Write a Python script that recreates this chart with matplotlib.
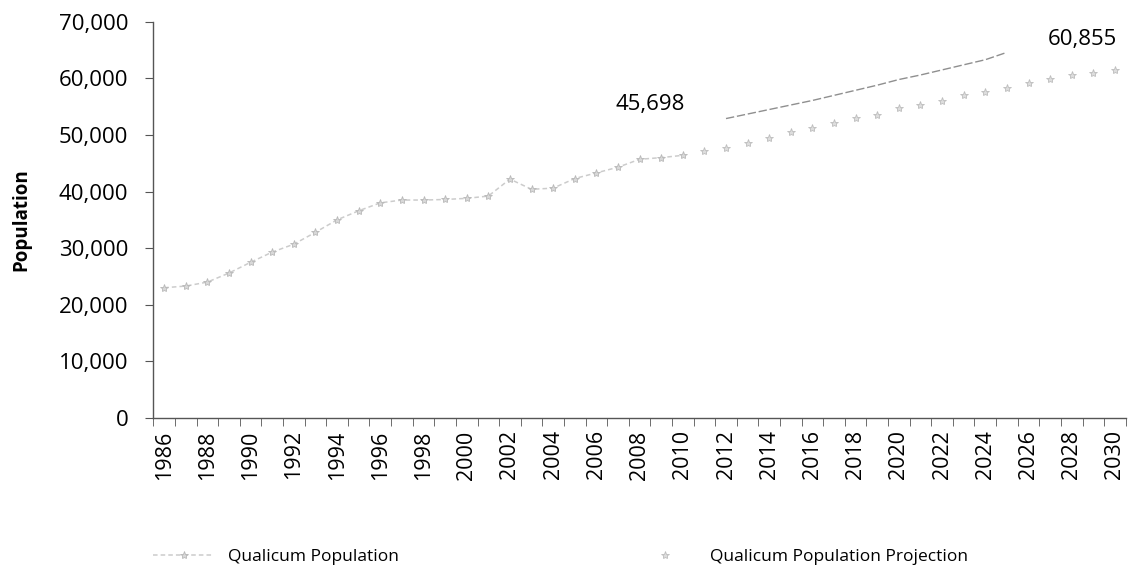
import numpy as np
import matplotlib
matplotlib.use("Agg")
import matplotlib.pyplot as plt
from matplotlib.ticker import FuncFormatter, MultipleLocator

plt.rcParams['font.family'] = ['Open Sans', 'DejaVu Sans']

# actual population
pop_years = list(range(1986, 2011))
pop_values = [23000, 23300, 24000, 25600, 27500, 29300, 30700, 32800, 35000,
              36600, 38000, 38500, 38500, 38600, 38800, 39200, 42200, 40400,
              40600, 42300, 43300, 44300, 45698, 46000, 46400]

# projection
proj_years = list(range(2011, 2031))
proj_values = [47200, 47700, 48600, 49500, 50600, 51300, 52200, 53000, 53600,
               54800, 55300, 56000, 57100, 57600, 58300, 59200, 59900, 60600,
               61000, 61500]

# faint unlabelled line
high_years = list(range(2012, 2026))
high_values = [52900, 53700, 54500, 55300, 56100, 57000, 57900, 58800, 59800,
               60600, 61500, 62400, 63300, 64600]

year_labels = list(range(1986, 2031, 2))

fig = plt.figure(figsize=(11.28, 5.74), dpi=100)
ax = fig.add_axes([0.136, 0.272, 0.862, 0.690])

ax.plot(pop_years, pop_values, color='#cccccc', lw=1.1, ls=(0, (3, 2)),
        marker='*', ms=6, mfc='#d8d8d8', mec='#b8b8b8', mew=0.6,
        label='Qualicum Population')
ax.plot(proj_years, proj_values, ls='none', marker='*', ms=6,
        mfc='#dddddd', mec='#bdbdbd', mew=0.6,
        label='Qualicum Population Projection')
ax.plot(high_years, high_values, color='#8f8f8f', lw=1.0, ls=(0, (6, 2)))

ax.text(2008.5, 55400, '45,698', fontsize=16, ha='center', va='center')
ax.text(2028.5, 66800, '60,855', fontsize=16, ha='center', va='center')

ax.set_xlim(1985.5, 2030.5)
ax.set_ylim(0, 70000)
ax.set_xticks(year_labels)
ax.set_xticklabels([str(y) for y in year_labels], rotation=90, fontsize=15.5)
ax.tick_params(axis='x', which='major', length=0, pad=9)
ax.set_xticks(np.arange(1985.5, 2031, 1), minor=True)
ax.tick_params(axis='x', which='minor', length=6, color='#555555')
ax.yaxis.set_major_locator(MultipleLocator(10000))
ax.yaxis.set_major_formatter(FuncFormatter(lambda v, p: f'{int(v):,}'))
ax.tick_params(axis='y', labelsize=16, length=6, color='#555555', pad=12)

for s in ['top', 'right']:
    ax.spines[s].set_visible(False)
for s in ['left', 'bottom']:
    ax.spines[s].set_color('#555555')
    ax.spines[s].set_linewidth(1.0)

ax.set_ylabel('Population', fontsize=13.5, fontweight='bold', labelpad=20)

fig.legend(loc='lower left', bbox_to_anchor=(0.122, -0.012), ncol=2,
           frameon=False, fontsize=12.5, columnspacing=13.6, handlelength=3.5)

fig.savefig('out.png', dpi=100)
